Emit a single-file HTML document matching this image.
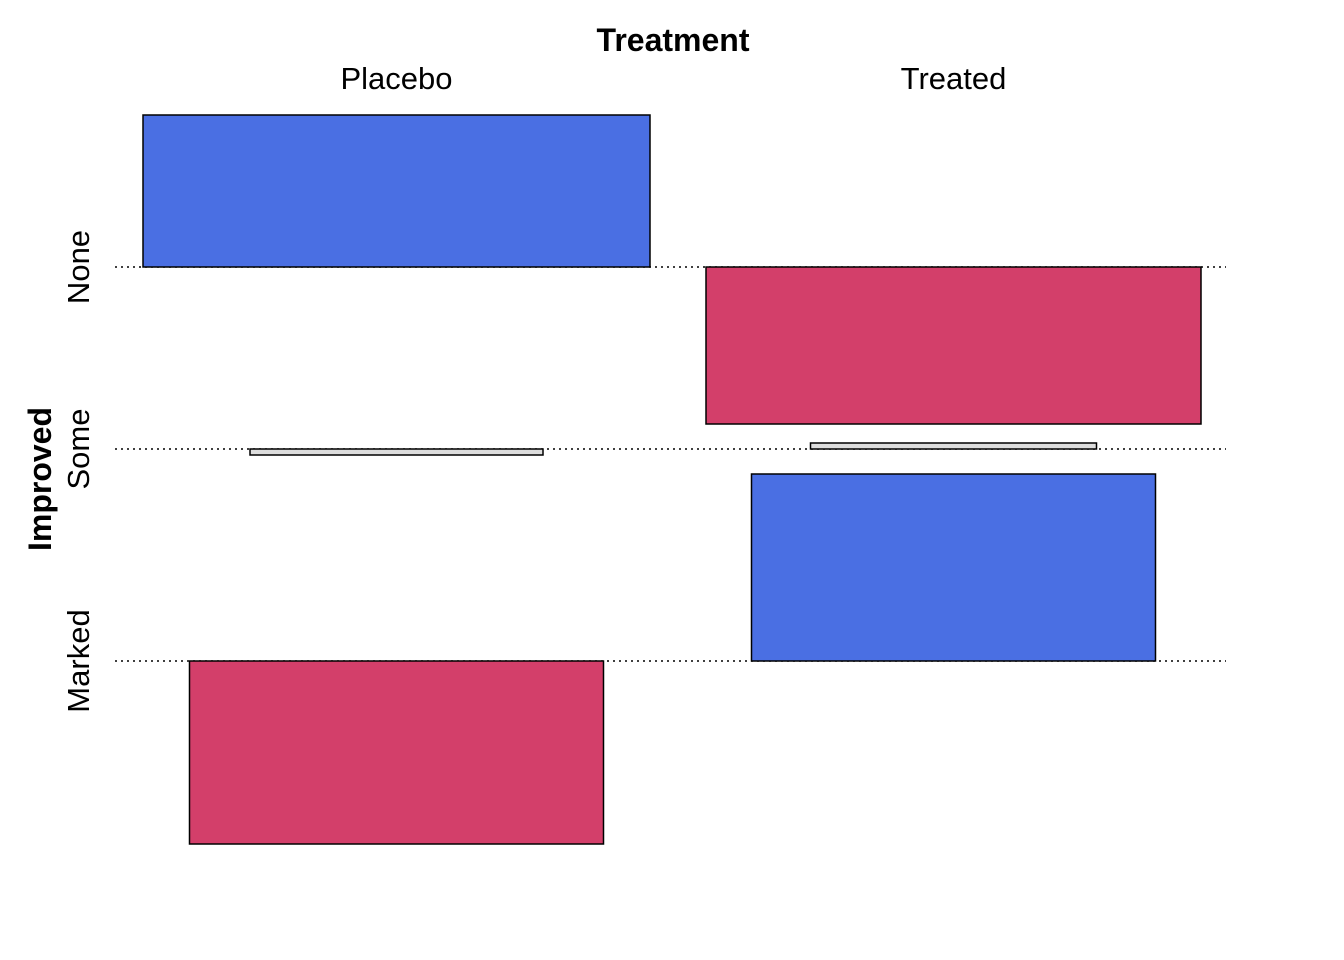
<!DOCTYPE html>
<html><head><meta charset="utf-8"><style>
body{margin:0;background:#fff}
svg{display:block;font-family:"Liberation Sans",Arial,sans-serif}
</style></head><body>
<svg id="chart" width="1344" height="960">
<text x="673" y="51" text-anchor="middle" font-size="32" font-weight="bold">Treatment</text>
<text x="51" y="479" text-anchor="middle" font-size="32" font-weight="bold" transform="rotate(-90 51 479)">Improved</text>
<g id="cols"></g><g id="rows"></g><g id="bars"></g>
</svg>
<script>
const cols=["Placebo","Treated"];
const rowsCat=["None","Some","Marked"];
// residuals (Pearson) per row, per column
const residPlacebo=[1.52,-0.06,-1.83];
const residTreated=[-1.57,0.06,1.87];
// sqrt of expected counts (relative widths)
const widthPlacebo=[5.07,2.93,4.14];
const widthTreated=[4.95,2.86,4.04];

const NS="http://www.w3.org/2000/svg";
const svg=document.getElementById('chart');
const colCenter=i=>396.5+i*557;
const baseY=[267,449,661];
const yScale=v=>v*100;
const xScale=v=>v*100;
const fillFor=(v)=>Math.abs(v)<0.5?"#dddddd":(v>0?"#4a6fe3":"#d33f6a");

const cg=document.getElementById('cols');
cols.forEach((c,i)=>{
  const t=document.createElementNS(NS,'text');
  t.setAttribute('x',colCenter(i));t.setAttribute('y',89);
  t.setAttribute('text-anchor','middle');t.setAttribute('font-size','31');
  t.textContent=c;
  
  
  cg.appendChild(t);
});
const rg=document.getElementById('rows');
rowsCat.forEach((r,j)=>{
  const x=89,y=baseY[j];
  const t=document.createElementNS(NS,'text');
  t.setAttribute('x',x);t.setAttribute('y',y);
  t.setAttribute('text-anchor','middle');t.setAttribute('font-size','31');
  t.setAttribute('transform','rotate(-90 '+x+' '+y+')');
  t.textContent=r;
  
  
  rg.appendChild(t);
  const l=document.createElementNS(NS,'line');
  l.setAttribute('x1',115);l.setAttribute('x2',1226);
  l.setAttribute('y1',y);l.setAttribute('y2',y);
  l.setAttribute('stroke','#000');l.setAttribute('stroke-width','1.5');
  l.setAttribute('stroke-dasharray','2 4');
  
  
  rg.appendChild(l);
});
const bg=document.getElementById('bars');
[[residPlacebo,widthPlacebo],[residTreated,widthTreated]].forEach(([res,w],i)=>{
  res.forEach((v,j)=>{
    const h=yScale(v),wd=xScale(w[j]);
    const r=document.createElementNS(NS,'rect');
    r.setAttribute('x',colCenter(i)-wd/2);
    r.setAttribute('width',wd);
    r.setAttribute('y',h>0?baseY[j]-h:baseY[j]);
    r.setAttribute('height',Math.abs(h));
    r.setAttribute('fill',fillFor(v));
    r.setAttribute('stroke','#000');r.setAttribute('stroke-width','1.5');
    
    
    bg.appendChild(r);
  });
});
</script>
</body></html>
